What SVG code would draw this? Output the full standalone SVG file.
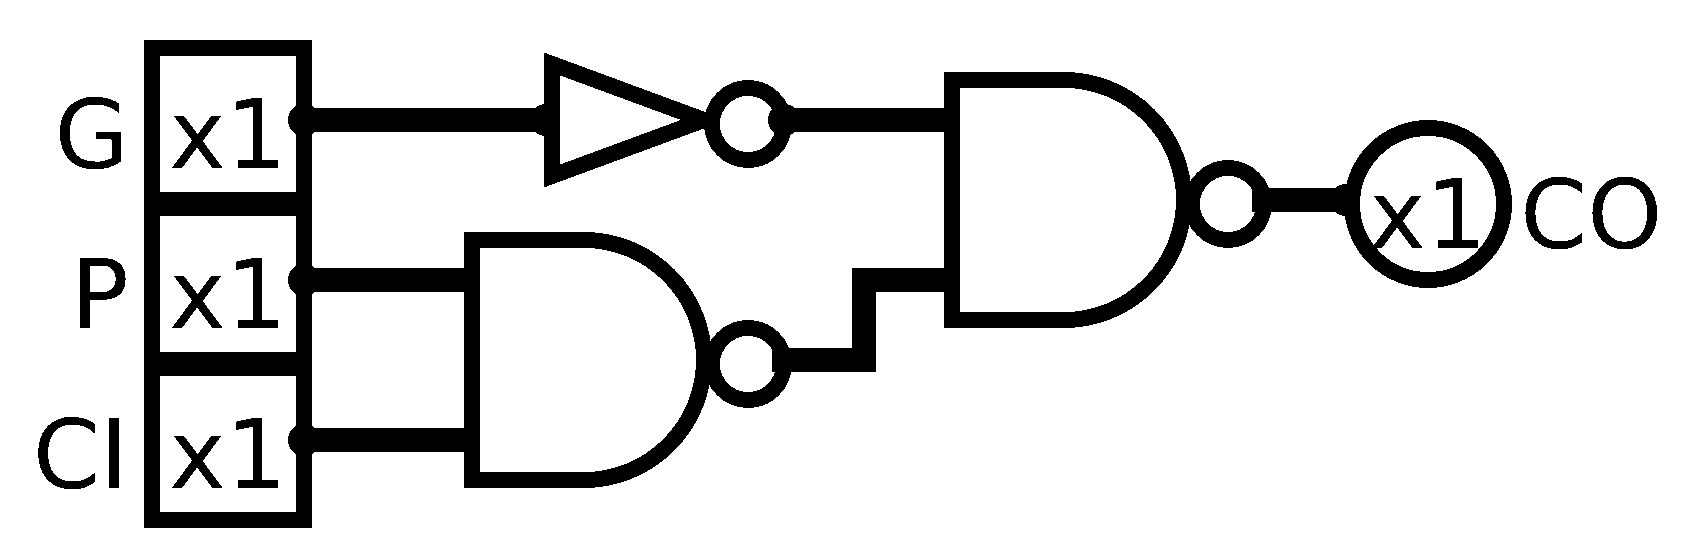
<svg xmlns="http://www.w3.org/2000/svg" width="1696" height="560" viewBox="0 0 1696 560">
<style>
.s{fill:#fff;stroke:#000;stroke-width:16;stroke-miterlimit:10;shape-rendering:crispEdges}
.w{fill:none;stroke:#000;stroke-width:24;stroke-miterlimit:10;shape-rendering:crispEdges}
text{font-family:"DejaVu Sans",sans-serif;font-size:96px;fill:#000;text-rendering:geometricPrecision;filter:url(#bw)}
.m{text-anchor:middle}
.e{text-anchor:end}
</style>
<defs>
<filter id="bw" x="-10%" y="-10%" width="120%" height="120%" color-interpolation-filters="sRGB"><feComponentTransfer><feFuncA type="discrete" tableValues="0 1"/></feComponentTransfer></filter>
<marker id="dot" markerUnits="userSpaceOnUse" markerWidth="40" markerHeight="40" refX="20" refY="20" orient="0" overflow="visible"><circle cx="20" cy="20" r="16" fill="#000" shape-rendering="crispEdges"/></marker>
<marker id="half" markerUnits="userSpaceOnUse" markerWidth="40" markerHeight="40" refX="20" refY="20" orient="0" overflow="visible"><path d="M20 4A16 16 0 0 0 20 36Z" fill="#000" shape-rendering="crispEdges"/></marker>
</defs>
<rect width="1696" height="560" fill="#fff"/>
<g id="buffer-G"><rect class="s" x="152" y="48" width="152" height="152"/><text class="m" x="228" y="168">x1</text></g>
<g id="buffer-P"><rect class="s" x="152" y="208" width="152" height="152"/><text class="m" x="228" y="328">x1</text></g>
<g id="buffer-CI"><rect class="s" x="152" y="368" width="152" height="152"/><text class="m" x="228" y="488">x1</text></g>
<g id="label-G"><text class="e" x="129" y="168">G</text></g>
<g id="label-P"><text class="e" x="129" y="328">P</text></g>
<g id="label-CI"><text class="e" x="128" y="488">CI</text></g>
<g id="inverter"><path class="s" d="M552 64L704 120L552 176Z"/><circle class="s" cx="748" cy="124" r="36"/></g>
<g id="nand-1"><path class="s" d="M472 240H584A120 120 0 0 1 584 480H472Z"/><circle class="s" cx="748" cy="364" r="36"/></g>
<g id="nand-2"><path class="s" d="M952 80H1064A120 120 0 0 1 1064 320H952Z"/><circle class="s" cx="1228" cy="204" r="36"/></g>
<g id="buffer-CO"><circle class="s" cx="1428" cy="204" r="76"/><text class="m" x="1428" y="248">x1</text></g>
<g id="label-CO"><text x="1520" y="248">CO</text></g>
<g id="connectors">
<path class="w" d="M304 120H546" marker-start="url(#dot)" marker-end="url(#half)"/>
<path class="w" d="M304 280H464" marker-start="url(#dot)"/>
<path class="w" d="M304 440H464" marker-start="url(#dot)"/>
<path class="w" d="M784 120H944" marker-start="url(#dot)"/>
<path class="w" d="M772 360H864V280H944"/>
<path class="w" d="M1252 200H1346" marker-end="url(#half)"/>
</g>
</svg>
